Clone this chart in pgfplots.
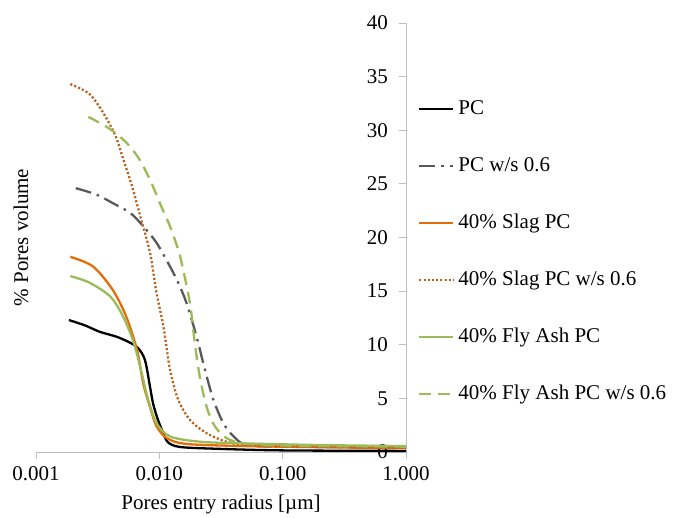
\documentclass[border=0pt]{standalone}
\usepackage{fontspec}
\setmainfont{Liberation Serif}
\usepackage{pgfplots}
\pgfplotsset{compat=1.18}

\definecolor{slag}{HTML}{E46C0A}
\definecolor{slagws}{HTML}{B8621E}
\definecolor{fly}{HTML}{9BBB59}
\definecolor{pcws}{HTML}{595959}
\definecolor{axgray}{HTML}{BFBFBF}

\begin{document}
\fontsize{21bp}{25bp}\selectfont
\begin{tikzpicture}
\useasboundingbox (-36bp,-66bp) rectangle (637bp,452bp);
\begin{axis}[
  at={(0,0)}, anchor=south west,
  scale only axis, width=370bp, height=429bp,
  xmode=log, xmin=0.001, xmax=1, ymin=0, ymax=40,
  axis x line*=bottom, axis y line*=right,
  axis line style={axgray, line width=0.8bp},
  xtick={0.001,0.01,0.1,1}, xticklabels={0.001,0.010,0.100,1.000},
  xminorticks=false,
  ytick={0,5,...,40},
  xtick align=outside, ytick align=inside,
  major tick length=7bp,
  tick style={axgray, line width=0.8bp},
  /pgf/number format/assume math mode=true,
  ticklabel style={font=\fontsize{21bp}{25bp}\selectfont, inner sep=0pt},
  xticklabel style={anchor=base, yshift=-21bp},
  yticklabel style={anchor=east, xshift=-18bp},
  xlabel={Pores entry radius [µm]},
  ylabel={\% Pores volume},
  label style={font=\fontsize{21bp}{25bp}\selectfont, inner sep=0pt},
  xlabel style={at={(axis description cs:0.5,0)}, anchor=base, yshift=-57bp},
  ylabel style={at={(axis description cs:-0.0405,0.5)}, anchor=center},
  legend image code/.code={\draw[#1] (0bp,0bp) -- (34bp,0bp);},
  legend cell align=left,
  legend style={at={(axis description cs:1.0324,0.823)}, anchor=north west,
    draw=none, fill=none, inner sep=0pt, row sep=37bp, column sep=4bp,
    font=\fontsize{21bp}{25bp}\selectfont,
    nodes={inner sep=0pt, text height=15bp, text depth=5bp}},
]
% PC
\addplot[black, line width=2.3bp, smooth] coordinates {
 (0.00185,12.3) (0.0025,11.8) (0.0033,11.2) (0.0045,10.75) (0.00578,10.2)
 (0.00671,9.7) (0.00764,8.6) (0.0084,6.1) (0.00887,4.6) (0.00955,3.3)
 (0.0105,2.05) (0.0117,0.93) (0.0147,0.47) (0.0293,0.3) (0.1,0.15) (1,0.1)};
\addlegendentry{PC}
% PC w/s 0.6
\addplot[pcws, line width=2.3bp, smooth, dash pattern=on 16bp off 6bp on 2.5bp off 6bp] coordinates {
 (0.0021,24.6) (0.0031,24.0) (0.0042,23.2) (0.0058,22.3) (0.0074,21.05)
 (0.0095,19.5) (0.0122,17.3) (0.0142,15.8) (0.0166,13.9) (0.020,10.8)
 (0.0234,7.7) (0.0274,4.9) (0.033,2.7) (0.040,1.45) (0.051,0.65)
 (0.1,0.5) (1,0.4)};
\addlegendentry{PC w/s 0.6}
% 40% Slag PC
\addplot[slag, line width=2.3bp, smooth] coordinates {
 (0.0019,18.2) (0.0029,17.3) (0.0042,15.1) (0.0054,12.6) (0.0066,9.5)
 (0.0074,6.4) (0.0084,4.2) (0.0095,2.4) (0.0115,1.3) (0.0166,0.75)
 (0.05,0.55) (0.2,0.45) (1,0.35)};
\addlegendentry{40\% Slag PC}
% 40% Slag PC w/s 0.6
\addplot[slagws, line width=2.3bp, smooth, dash pattern=on 2.1bp off 2.1bp] coordinates {
 (0.0019,34.3) (0.0027,33.4) (0.0035,31.65) (0.0044,29.5) (0.0051,27.3)
 (0.0060,24.8) (0.0070,22.0) (0.0084,18.6) (0.0095,14.8) (0.0108,11.7)
 (0.0122,7.7) (0.0142,4.9) (0.0177,3.0) (0.0242,1.75) (0.035,0.96)
 (0.05,0.7) (0.2,0.5) (1,0.4)};
\addlegendentry{40\% Slag PC w/s 0.6}
% 40% Fly Ash PC
\addplot[fly, line width=2.3bp, smooth] coordinates {
 (0.0019,16.4) (0.0027,15.8) (0.0040,14.5) (0.0051,12.6) (0.0062,10.2)
 (0.0072,7.35) (0.0081,4.9) (0.0095,2.7) (0.0122,1.45) (0.0213,0.96)
 (0.05,0.8) (0.2,0.65) (1,0.55)};
\addlegendentry{40\% Fly Ash PC}
% 40% Fly Ash PC w/s 0.6
\addplot[fly, line width=2.3bp, smooth, dash pattern=on 12bp off 7bp] coordinates {
 (0.00266,31.25) (0.0040,30.1) (0.0054,28.85) (0.0068,27.4) (0.0084,25.4)
 (0.0101,23.2) (0.0122,21.05) (0.0142,18.9) (0.0152,17.6) (0.0177,13.9)
 (0.0194,10.15) (0.0213,7.0) (0.0242,4.2) (0.0282,2.4) (0.035,1.3)
 (0.048,0.8) (0.1,0.6) (1,0.5)};
\addlegendentry{40\% Fly Ash PC w/s 0.6}
\end{axis}
\end{tikzpicture}
\end{document}
